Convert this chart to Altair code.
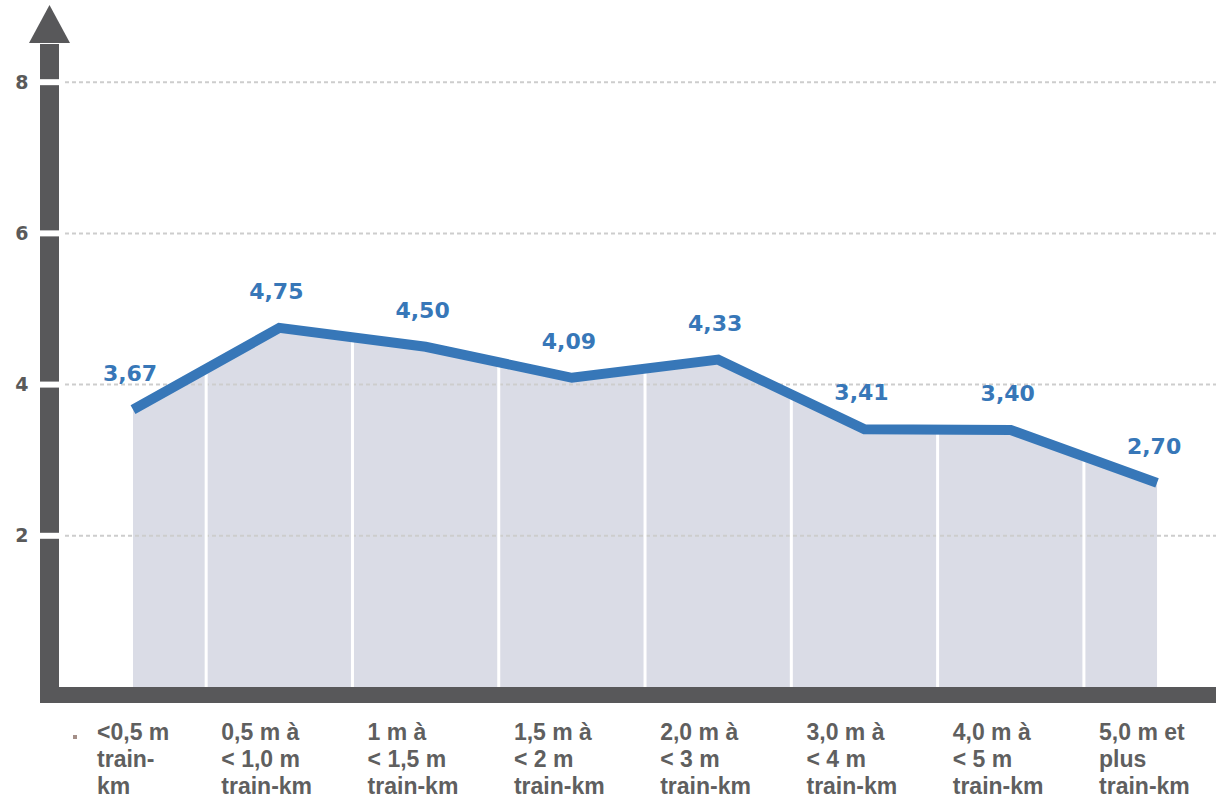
import altair as alt
import pandas as pd

# ---- data ----
categories = [
    "<0,5 m\ntrain-\nkm",
    "0,5 m à\n< 1,0 m\ntrain-km",
    "1 m à\n< 1,5 m\ntrain-km",
    "1,5 m à\n< 2 m\ntrain-km",
    "2,0 m à\n< 3 m\ntrain-km",
    "3,0 m à\n< 4 m\ntrain-km",
    "4,0 m à\n< 5 m\ntrain-km",
    "5,0 m et\nplus\ntrain-km",
]
values = [3.67, 4.75, 4.50, 4.09, 4.33, 3.41, 3.40, 2.70]
y_ticks = [2, 4, 6, 8]

# ---- styles ----
AXIS_GRAY = "#58585a"
AREA_FILL = "#dadce6"
LINE_BLUE = "#3777b8"
LABEL_GRAY = "#5f5f5f"
W, H = 1157, 643

df = pd.DataFrame({
    "idx": list(range(len(values))),
    "cat": categories,
    "value": values,
    "label": [f"{v:.2f}".replace(".", ",") for v in values],
})
mid = pd.DataFrame({
    "mx": [i + 0.5 for i in range(len(values) - 1)],
    "my": [(values[i] + values[i + 1]) / 2 for i in range(len(values) - 1)],
})
ticks_df = pd.DataFrame({"t": y_ticks})
one = pd.DataFrame({"a": [0]})

x_scale = alt.Scale(domain=[-0.506, 7.403], nice=False, zero=False)
y_scale = alt.Scale(domain=[0, 8.505], nice=False)

area = alt.Chart(df).mark_area(color=AREA_FILL, opacity=1).encode(
    x=alt.X("idx:Q", scale=x_scale, axis=None),
    y=alt.Y("value:Q", scale=y_scale, axis=alt.Axis(
        values=y_ticks, format="d", title=None, domain=False, ticks=False,
        tickSize=0, grid=False, labelPadding=31, labelFont="DejaVu Sans",
        labelFontWeight="bold", labelFontSize=19, labelColor="#5a5a5a",
        labelAlign="right")),
    y2=alt.datum(0),
)

grid = alt.Chart(ticks_df).mark_rule(
    color="#cdcdcd", strokeWidth=2, strokeDash=[4, 3]
).encode(
    x=alt.value(6), x2=alt.value(W), y=alt.Y("t:Q", scale=y_scale),
)

dividers = alt.Chart(mid).mark_rule(color="white", strokeWidth=3).encode(
    x=alt.X("mx:Q", scale=x_scale),
    y=alt.Y("my:Q", scale=y_scale),
    y2=alt.datum(0),
)

line = alt.Chart(df).mark_line(
    color=LINE_BLUE, strokeWidth=10, strokeCap="butt"
).encode(
    x=alt.X("idx:Q", scale=x_scale),
    y=alt.Y("value:Q", scale=y_scale),
)

value_labels = alt.Chart(df).mark_text(
    font="DejaVu Sans", fontWeight="bold", fontSize=22, color=LINE_BLUE,
    baseline="alphabetic", dy=-29, dx=-3,
).encode(
    x=alt.X("idx:Q", scale=x_scale),
    y=alt.Y("value:Q", scale=y_scale),
    text="label:N",
)

y_band = alt.Chart(one).mark_rule(color=AXIS_GRAY, strokeWidth=19, strokeCap="butt").encode(
    x=alt.value(-9.5), y=alt.value(0), y2=alt.value(659),
)
x_band = alt.Chart(one).mark_rule(color=AXIS_GRAY, strokeWidth=16, strokeCap="butt").encode(
    x=alt.value(-19), x2=alt.value(W), y=alt.value(651),
)
gaps = alt.Chart(ticks_df).mark_rule(color="white", strokeWidth=6).encode(
    x=alt.value(-20), x2=alt.value(6), y=alt.Y("t:Q", scale=y_scale),
)
arrow = alt.Chart(one).mark_point(
    shape="M-1,0.93L0,-0.93L1,0.93Z", size=1681, filled=True,
    color=AXIS_GRAY, opacity=1, strokeWidth=0,
).encode(x=alt.value(-9.5), y=alt.value(-20))

marker = alt.Chart(one).mark_square(size=16, color="#a48f88", opacity=1).encode(
    x=alt.value(16), y=alt.value(693),
)

label_style = dict(
    font="Liberation Sans", fontWeight="bold", fontSize=23, color=LABEL_GRAY,
    align="left", baseline="alphabetic", lineBreak="\n", lineHeight=27,
)
cat_enc = dict(x=alt.X("idx:Q", scale=x_scale), y=alt.value(696), text="cat:N")

cat_label_first = alt.Chart(df).transform_filter("datum.idx == 0").mark_text(
    dx=-36, **label_style
).encode(**cat_enc)
cat_labels_rest = alt.Chart(df).transform_filter("datum.idx > 0").mark_text(
    dx=-58, **label_style
).encode(**cat_enc)

chart = alt.layer(
    area, grid, dividers, line, value_labels, y_band, x_band, gaps, arrow,
    marker, cat_label_first, cat_labels_rest
).properties(
    width=W, height=H,
    padding={"left": 59, "top": 44, "right": 0, "bottom": 115},
    autosize=alt.AutoSizeParams(type="none"),
    background="white",
).configure_view(stroke=None)

chart.save("out.html", embed_options={"renderer": "svg", "actions": False})
